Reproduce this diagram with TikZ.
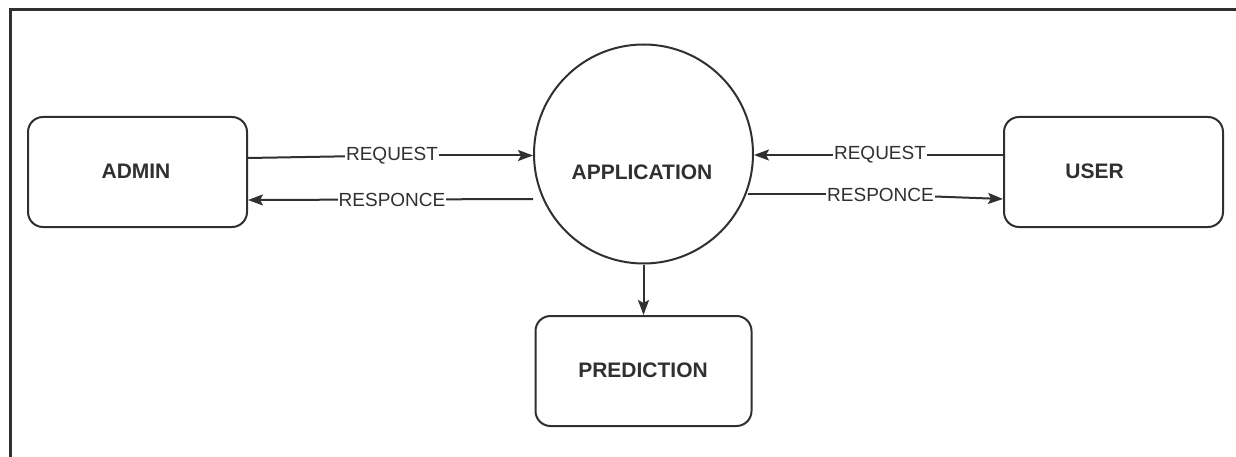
\documentclass[tikz,border=0pt]{standalone}
\usepackage{fontspec}
\setmainfont{Liberation Sans}
\usetikzlibrary{arrows.meta}
\definecolor{ink}{HTML}{303030}
\begin{document}
\begin{tikzpicture}[x=1pt,y=-1pt,
  box/.style={draw=ink,line width=2pt,rounded corners=15pt,fill=white,minimum width=219pt,minimum height=110pt,inner sep=0pt},
  proc/.style={draw=ink,line width=2pt,circle,fill=white,minimum size=219pt,inner sep=0pt},
  ntext/.style={font=\bfseries\fontsize{21}{24}\selectfont,text=ink,inner sep=0pt},
  etext/.style={font=\fontsize{19}{22}\selectfont,text=ink,fill=white,inner sep=1pt},
  flow/.style={draw=ink,line width=2pt,-{Stealth[length=15pt,width=11pt,inset=3pt]}},
  plain/.style={draw=ink,line width=2pt}]
\useasboundingbox (0,0) rectangle (1236,457);
\fill[white] (0,0) rectangle (1236,457);
% frame
\draw[ink,line width=3.5pt] (10.5,457) -- (10.5,9.5) -- (1236,9.5);
% nodes
\node[box] (adminbox) at (137.5,172) {};
\node[box] (userbox) at (1113.5,172) {};
\node[box,minimum width=216pt] (predbox) at (643.5,371) {};
\node[proc] (app) at (643.5,154) {};
\node[ntext] (admin) at (136,171) {ADMIN};
\node[ntext] (user) at (1094.5,171) {USER};
\node[ntext] (pred) at (643,370) {PREDICTION};
\node[ntext] (applbl) at (642,172) {APPLICATION};
% label positions
\coordinate (lq) at (392,155.5);
\coordinate (lr) at (392,199.5);
\coordinate (rq) at (880,155);
\coordinate (rr) at (880.5,194.5);
% left request
\draw[plain] (adminbox.east |- 0,158) -- (lq);
\draw[flow] (lq) -- (app.west |- lq);
\node[etext] (lreq) at (lq) {REQUEST};
% left response
\draw[flow] ([yshift=-45pt]app.west) -- (adminbox.east |- 0,200);
\node[etext] (lresp) at (lr) {RESPONCE};
% right request
\draw[flow] (userbox.west |- rq) -- (app.east |- rq);
\node[etext] (rreq) at (rq) {REQUEST};
% right response
\draw[plain] (748,194.5) -- (rr);
\draw[flow] (rr) -- (userbox.west |- 0,199);
\node[etext] (rresp) at (rr) {RESPONCE};
% to prediction
\draw[flow] (app.south) -- (predbox.north);
\end{tikzpicture}
\end{document}
